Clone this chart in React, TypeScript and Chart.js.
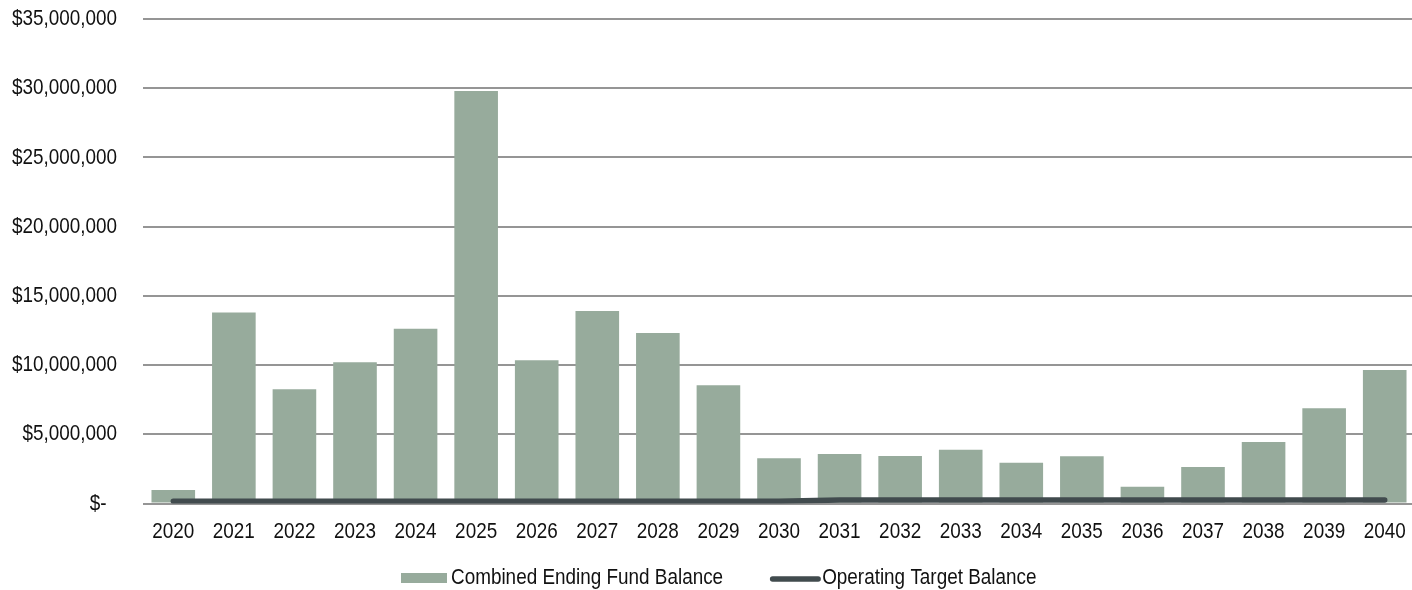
import React, { useEffect, useRef } from 'react';
import { Chart, registerables } from 'chart.js';

Chart.register(...registerables);

// Fiscal years shown along the x axis
const years = [
  '2020', '2021', '2022', '2023', '2024', '2025', '2026', '2027', '2028', '2029', '2030',
  '2031', '2032', '2033', '2034', '2035', '2036', '2037', '2038', '2039', '2040',
];

// Combined ending fund balance per year (USD)
const combinedEndingFundBalance = [
  980000, 13800000, 8250000, 10200000, 12630000, 29800000, 10350000, 13900000, 12320000, 8540000, 3270000,
  3580000, 3430000, 3890000, 2950000, 3410000, 1210000, 2640000, 4440000, 6880000, 9650000,
];

// Operating target balance per year (USD)
const operatingTargetBalance = [
  160000, 160000, 160000, 160000, 160000, 160000, 160000, 160000, 160000, 160000, 160000,
  260000, 260000, 260000, 260000, 260000, 260000, 260000, 260000, 260000, 260000,
];

// Value-axis labels, bottom to top
const yTickLabels = [
  '$-  ', '$5,000,000', '$10,000,000', '$15,000,000', '$20,000,000', '$25,000,000', '$30,000,000', '$35,000,000',
];
const yMax = 35000000;
const yStep = 5000000;

const seriesNames = ['Combined Ending Fund Balance', 'Operating Target Balance'];

const FONT_FAMILY = "'Liberation Sans', Arial, sans-serif";
const FONT_SIZE = 22.5;
const NARROW = 0.84; // horizontal squeeze to get an Arial Narrow look
const BAR_COLOR = '#97ab9c';
const LINE_COLOR = '#414b4e';
const GRID_COLOR = '#959595';
const TEXT_COLOR = '#111111';

function narrowText(ctx: CanvasRenderingContext2D, text: string, x: number, y: number, align: CanvasTextAlign) {
  ctx.save();
  ctx.translate(x, y);
  ctx.scale(NARROW, 1);
  ctx.textAlign = align;
  ctx.textBaseline = 'middle';
  ctx.fillText(text, 0, 0);
  ctx.restore();
}

// Draws axis labels and the legend in a condensed face
const condensedLabels = {
  id: 'condensedLabels',
  afterDraw(chart: any) {
    const { ctx, chartArea, scales } = chart;
    const x = scales.x;
    const y = scales.y;
    ctx.save();
    ctx.font = `${FONT_SIZE}px ${FONT_FAMILY}`;
    ctx.fillStyle = TEXT_COLOR;

    // value axis
    y.ticks.forEach((t: any, i: number) => {
      narrowText(ctx, yTickLabels[i], chartArea.left - 26, y.getPixelForValue(t.value), 'right');
    });

    // category axis
    years.forEach((label, i) => {
      narrowText(ctx, label, x.getPixelForValue(i), chartArea.bottom + 28, 'center');
    });

    // legend
    const legendY = chartArea.bottom + 74.5;
    let lx = 401;
    ctx.fillStyle = BAR_COLOR;
    ctx.fillRect(lx, legendY - 5, 46, 10);
    lx += 50;
    ctx.fillStyle = TEXT_COLOR;
    narrowText(ctx, seriesNames[0], lx, legendY, 'left');
    lx += ctx.measureText(seriesNames[0]).width * NARROW + 47;
    ctx.strokeStyle = LINE_COLOR;
    ctx.lineWidth = 5.5;
    ctx.lineCap = 'round';
    ctx.beginPath();
    ctx.moveTo(lx + 2.5, legendY + 1);
    ctx.lineTo(lx + 48, legendY + 1);
    ctx.stroke();
    lx += 52;
    narrowText(ctx, seriesNames[1], lx, legendY, 'left');
    ctx.restore();
  },
};

export default function App() {
  const canvasRef = useRef<HTMLCanvasElement | null>(null);

  useEffect(() => {
    if (!canvasRef.current) return;
    const chart = new Chart(canvasRef.current, {
      type: 'bar',
      data: {
        labels: years,
        datasets: [
          {
            type: 'bar',
            label: seriesNames[0],
            data: combinedEndingFundBalance,
            backgroundColor: BAR_COLOR,
            borderWidth: 0,
            categoryPercentage: 1,
            barPercentage: 0.72,
            order: 2,
          },
          {
            type: 'line',
            label: seriesNames[1],
            data: operatingTargetBalance,
            borderColor: LINE_COLOR,
            backgroundColor: LINE_COLOR,
            borderWidth: 5.5,
            borderCapStyle: 'round',
            borderJoinStyle: 'round',
            pointRadius: 0,
            tension: 0,
            order: 1,
          },
        ],
      },
      options: {
        animation: false,
        responsive: false,
        layout: { padding: { top: 19, right: 0, bottom: 86.5, left: 0 } },
        plugins: {
          legend: { display: false },
          tooltip: { enabled: false },
        },
        scales: {
          x: {
            grid: { display: false, drawTicks: false },
            border: { display: false },
            ticks: { display: false },
            afterFit: (scale: any) => {
              scale.height = 0;
              scale.paddingLeft = 0;
              scale.paddingRight = 0;
            },
          },
          y: {
            min: 0,
            max: yMax,
            grid: { color: GRID_COLOR, lineWidth: 2, drawTicks: false },
            border: { display: false },
            ticks: { display: false, stepSize: yStep },
            afterFit: (scale: any) => {
              scale.width = 143;
              scale.paddingTop = 0;
              scale.paddingBottom = 0;
            },
          },
        },
      },
      plugins: [condensedLabels],
    });
    return () => chart.destroy();
  }, []);

  return (
    <div style={{ position: 'absolute', left: 0, top: 0, width: 1412, height: 590, overflow: 'hidden', background: '#fff' }}>
      <canvas ref={canvasRef} width={1415} height={590} style={{ display: 'block' }} />
    </div>
  );
}
